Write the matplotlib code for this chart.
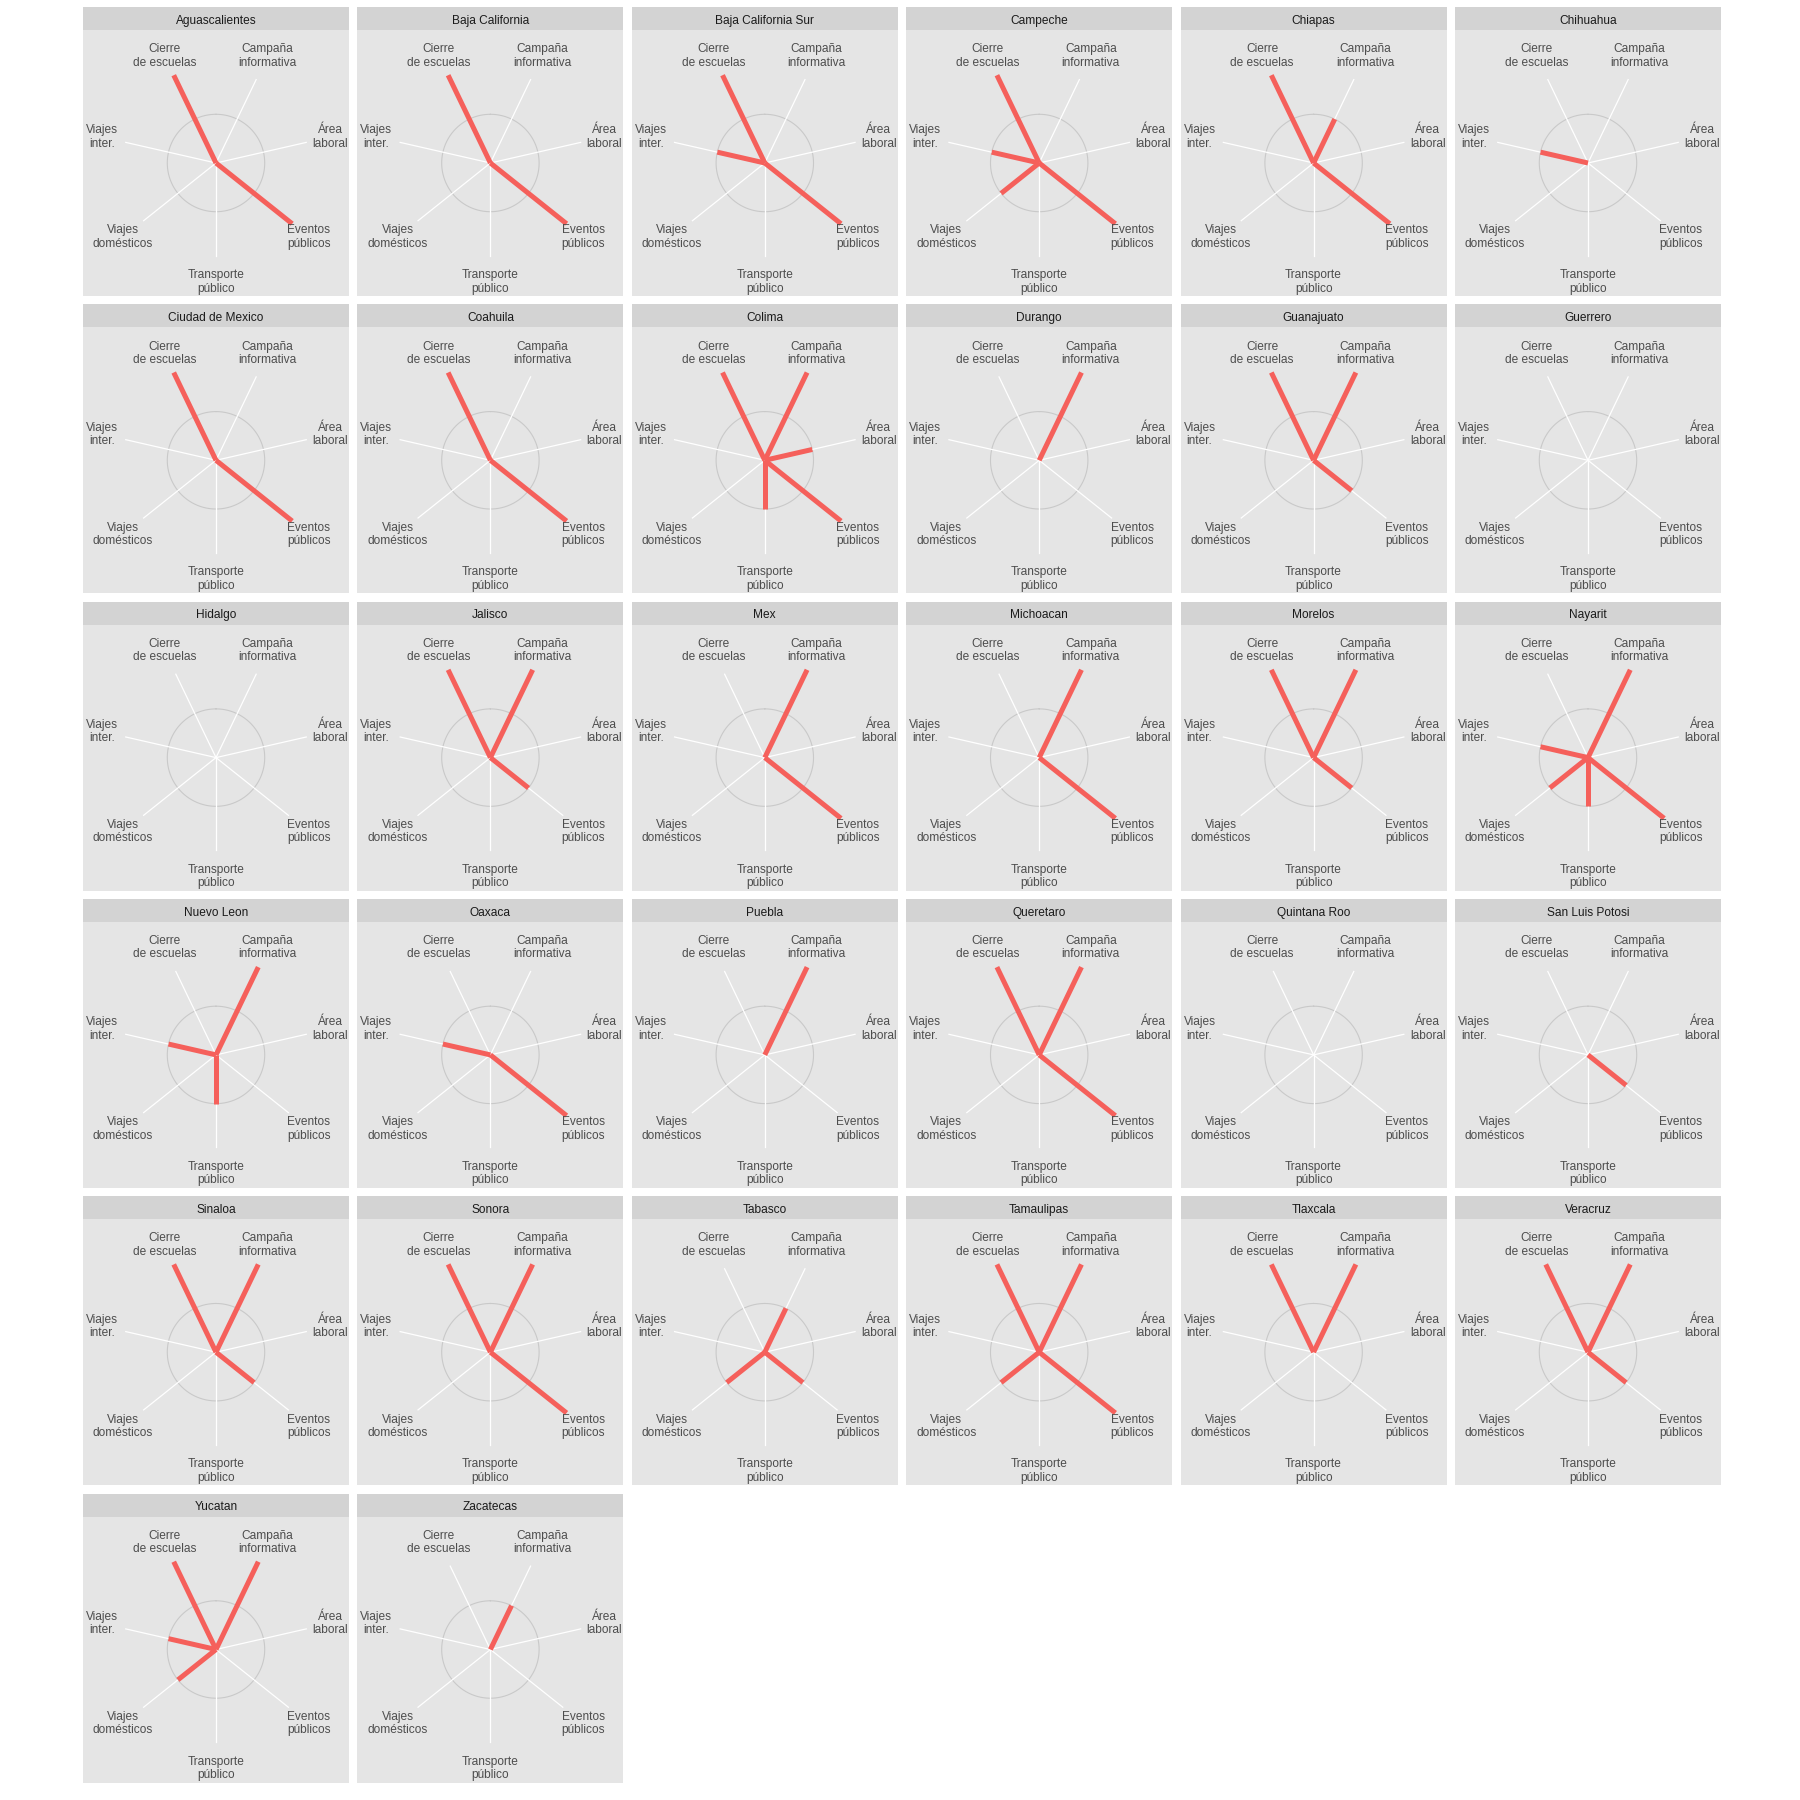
import matplotlib
matplotlib.use("Agg")
import matplotlib.pyplot as plt
import numpy as np

estados = [
    "Aguascalientes", "Baja California", "Baja California Sur", "Campeche",
    "Chiapas", "Chihuahua", "Ciudad de Mexico", "Coahuila", "Colima",
    "Durango", "Guanajuato", "Guerrero", "Hidalgo", "Jalisco", "Mex",
    "Michoacan", "Morelos", "Nayarit", "Nuevo Leon", "Oaxaca", "Puebla",
    "Queretaro", "Quintana Roo", "San Luis Potosi", "Sinaloa", "Sonora",
    "Tabasco", "Tamaulipas", "Tlaxcala", "Veracruz", "Yucatan", "Zacatecas",
]

etiquetas = [
    "Campaña\ninformativa", "Área\nlaboral", "Eventos\npúblicos",
    "Transporte\npúblico", "Viajes\ndomésticos", "Viajes\ninter.",
    "Cierre\nde escuelas",
]

campana = [0, 0, 0, 0, 1, 0, 0, 0, 2, 2, 2, 0, 0, 2, 2, 2,
           2, 2, 2, 0, 2, 2, 0, 0, 2, 2, 1, 2, 2, 2, 2, 1]
area = [0, 0, 0, 0, 0, 0, 0, 0, 1, 0, 0, 0, 0, 0, 0, 0,
        0, 0, 0, 0, 0, 0, 0, 0, 0, 0, 0, 0, 0, 0, 0, 0]
eventos = [2, 2, 2, 2, 2, 0, 2, 2, 2, 0, 1, 0, 0, 1, 2, 2,
           1, 2, 0, 2, 0, 2, 0, 1, 1, 2, 1, 2, 0, 1, 0, 0]
transporte = [0, 0, 0, 0, 0, 0, 0, 0, 1, 0, 0, 0, 0, 0, 0, 0,
              0, 1, 1, 0, 0, 0, 0, 0, 0, 0, 0, 0, 0, 0, 0, 0]
viajes_dom = [0, 0, 0, 1, 0, 0, 0, 0, 0, 0, 0, 0, 0, 0, 0, 0,
              0, 1, 0, 0, 0, 0, 0, 0, 0, 0, 1, 1, 0, 0, 1, 0]
viajes_int = [0, 0, 1, 1, 0, 1, 0, 0, 0, 0, 0, 0, 0, 0, 0, 0,
              0, 1, 1, 1, 0, 0, 0, 0, 0, 0, 0, 0, 0, 0, 1, 0]
cierre = [2, 2, 2, 2, 2, 0, 2, 2, 2, 0, 2, 0, 0, 2, 0, 0,
          2, 0, 0, 0, 0, 2, 0, 0, 2, 2, 0, 2, 2, 2, 2, 0]

medidas = [campana, area, eventos, transporte, viajes_dom, viajes_int, cierre]

plt.rcParams["font.family"] = ["Liberation Sans", "DejaVu Sans"]

W = 1800.0
fig = plt.figure(figsize=(18, 18), dpi=100)

n = len(etiquetas)
angulos = (np.arange(n) + 0.5) * 2 * np.pi / n
circulo = np.linspace(0, 2 * np.pi, 200)
rmax = 2.73

for i, estado in enumerate(estados):
    fila, col = divmod(i, 6)
    x0 = 83 + col * 274.4
    y0 = 7 + fila * 297.3

    # strip
    ax_s = fig.add_axes([x0 / W, 1 - (y0 + 23) / W, 266 / W, 23 / W])
    ax_s.set_facecolor("#D3D3D3")
    ax_s.set_xticks([])
    ax_s.set_yticks([])
    for s in ax_s.spines.values():
        s.set_visible(False)
    ax_s.text(0.5, 0.47, estado, ha="center", va="center_baseline",
              fontsize=8.6, color="#1A1A1A", transform=ax_s.transAxes)

    # fondo del panel
    rect = [x0 / W, 1 - (y0 + 289) / W, 266 / W, 266 / W]
    ax_b = fig.add_axes(rect)
    ax_b.set_facecolor("#E5E5E5")
    ax_b.set_xticks([])
    ax_b.set_yticks([])
    for s in ax_b.spines.values():
        s.set_visible(False)

    ax = fig.add_axes(rect, projection="polar")
    ax.set_facecolor("none")
    ax.set_theta_zero_location("N")
    ax.set_theta_direction(-1)
    ax.set_ylim(0, rmax)
    ax.grid(False)
    ax.set_xticks([])
    ax.set_yticks([])
    ax.spines["polar"].set_visible(False)

    ax.plot(circulo, np.ones_like(circulo), color="#C9C9C9", lw=0.8)
    for th in angulos:
        ax.plot([th, th], [0, 1.9], color="white", lw=0.9)

    for k, th in enumerate(angulos):
        v = medidas[k][i]
        if v > 0:
            ax.plot([th, th], [0, v], color="#F5605B", lw=3.6,
                    solid_capstyle="butt", zorder=3)
        r_lab = 2.40 if k in (1, 5) else 2.44
        ax.text(th, r_lab, etiquetas[k], ha="center", va="center",
                fontsize=8.6, color="#4D4D4D", linespacing=1.15,
                clip_on=False)

fig.savefig("out.png", dpi=100)
